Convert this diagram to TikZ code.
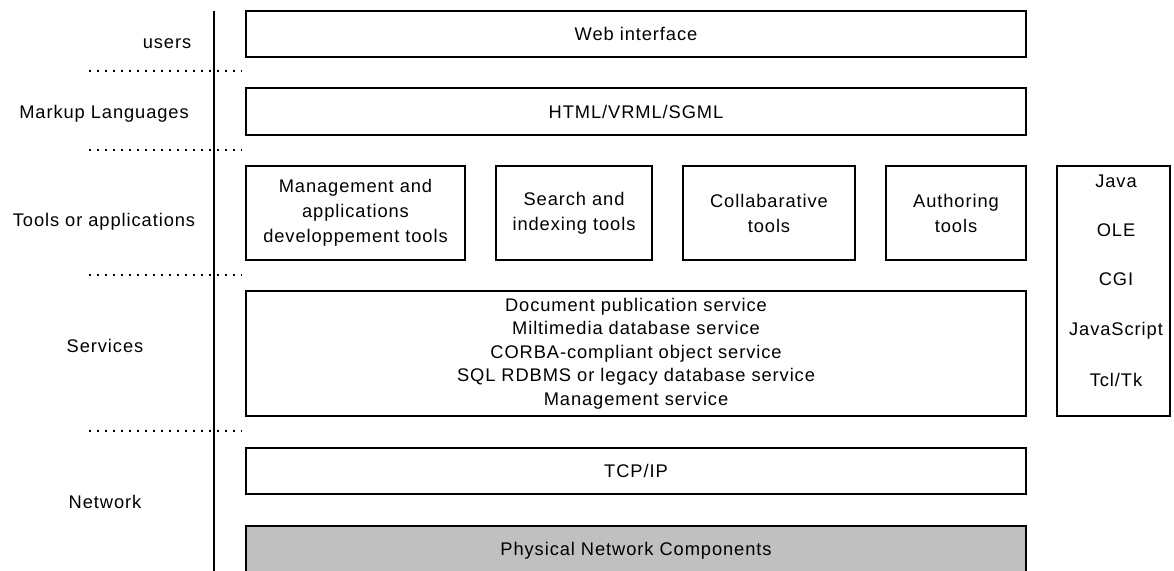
\documentclass[tikz,border=0pt]{standalone}
\usepackage{fontspec}
\setmainfont{Liberation Sans}[LetterSpace=5]
\begin{document}
\begin{tikzpicture}[x=1pt,y=-1pt,
  box/.style={draw, line width=1.2pt, inner sep=0pt, align=center,
    font=\fontsize{18.3}{25}\selectfont},
  lab/.style={inner sep=0pt, anchor=base, font=\fontsize{18.3}{20}\selectfont},
  sep/.style={line width=1.5pt, dash pattern=on 1.5pt off 6.5pt},
]
\useasboundingbox (0,0) rectangle (1174,570);
% axis
\coordinate (vt) at (214,11);
\coordinate (vb) at (214,575);
\draw[line width=2pt] (vt) -- (vb);
% dotted separators
\foreach \y/\n in {71/a,150/b,275/c,431/d}{
  \coordinate (s\n l) at (89,\y);
  \coordinate (s\n r) at (242,\y);
  \draw[sep] (s\n l) -- (s\n r);
}
% left labels
\node[lab] (lusers) at (167,48) {users};
\node[lab] (lmark) at (104,118) {Markup Languages};
\node[lab] (ltools) at (104,226) {Tools or applications};
\node[lab] (lserv) at (105,352) {Services};
\node[lab] (lnet) at (105,508) {Network};
% boxes
\node[box, minimum width=780pt, minimum height=46pt] (web) at (636,34) {Web interface};
\node[box, minimum width=780pt, minimum height=47pt] (html) at (636,111.5) {HTML/VRML/SGML};
\node[box, minimum width=219pt, minimum height=94pt] (t1) at (355.5,213) {Management and\\applications\\developpement tools};
\node[box, minimum width=156pt, minimum height=94pt] (t2) at (574,213) {Search and\\indexing tools};
\node[box, minimum width=172pt, minimum height=94pt] (t3) at (769,213) {Collabarative\\tools};
\node[box, minimum width=140pt, minimum height=94pt] (t4) at (956,213) {Authoring\\tools};
\node[box, minimum width=780pt, minimum height=125pt, font=\fontsize{18.3}{23.5}\selectfont] (serv) at (636,353.5)
  {Document publication service\\Miltimedia database service\\CORBA-compliant object service\\SQL RDBMS or legacy database service\\Management service};
\node[box, minimum width=113pt, minimum height=250pt] (right) at (1113.5,291) {};
\node[lab] (java) at (1116,187.5) {Java};
\node[lab] (ole) at (1116,236.5) {OLE};
\node[lab] (cgi) at (1116,285.5) {CGI};
\node[lab] (js) at (1116,335) {JavaScript};
\node[lab] (tcl) at (1116,386.5) {Tcl/Tk};
\node[box, minimum width=780pt, minimum height=46pt] (tcp) at (636,471) {TCP/IP};
\node[box, fill={rgb,255:red,192;green,192;blue,192}, minimum width=780pt, minimum height=60pt] (phys) at (636,556) {};
\node[lab] (physt) at (636,555) {Physical Network Components};
\end{tikzpicture}
\end{document}
